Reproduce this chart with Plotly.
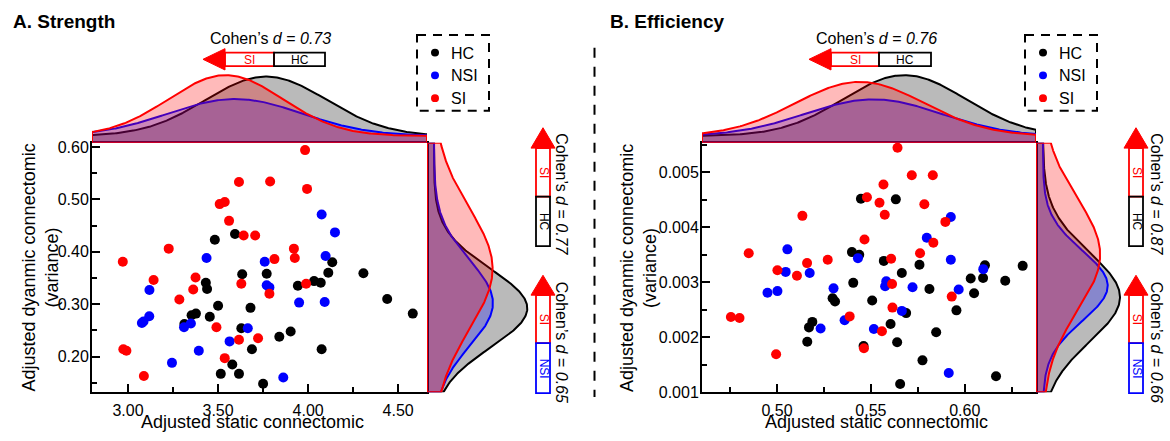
import numpy as np
import plotly.graph_objects as go

W, H = 1170, 441
FONT = "Liberation Sans, Arial, sans-serif"

groups = ["HC", "NSI", "SI"]
colors = {"HC": "#000000", "NSI": "#0000FF", "SI": "#FF0000"}
fills = {"HC": "rgba(0,0,0,0.27)", "NSI": "rgba(0,0,255,0.27)", "SI": "rgba(255,0,0,0.27)"}

# ---------------- Panel A: Strength ----------------
a_hc_x = [3.594, 3.482, 3.634, 3.770, 3.432, 3.439, 3.943, 4.033, 4.070, 4.112, 4.134, 4.307, 4.439, 4.581, 3.500,
          3.680, 3.377, 3.353, 3.454, 3.313, 3.629, 3.903, 3.840, 3.688, 4.075, 3.579, 3.515, 3.616, 3.750]
a_hc_y = [0.434, 0.423, 0.357, 0.358, 0.341, 0.329, 0.335, 0.344, 0.341, 0.360, 0.380, 0.359, 0.310, 0.282, 0.297,
          0.293, 0.282, 0.279, 0.276, 0.262, 0.254, 0.248, 0.238, 0.214, 0.214, 0.185, 0.167, 0.167, 0.148]
a_nsi_x = [4.075, 4.149, 3.436, 3.759, 4.097, 3.770, 3.785, 3.119, 3.950, 4.092, 3.118, 3.077, 3.086, 3.311, 3.349,
           3.665, 3.564, 3.393, 3.244, 3.862]
a_nsi_y = [0.471, 0.437, 0.388, 0.381, 0.392, 0.336, 0.332, 0.327, 0.303, 0.304, 0.277, 0.264, 0.267, 0.256, 0.263,
           0.254, 0.229, 0.211, 0.188, 0.160]
a_si_x = [3.983, 3.616, 3.789, 3.994, 3.509, 3.537, 3.561, 3.642, 3.706, 3.226, 2.971, 3.921, 3.926, 3.813, 3.142,
          3.375, 3.362, 3.629, 3.989, 3.785, 3.285, 3.491, 3.616, 3.722, 2.974, 2.991, 3.537, 3.088]
a_si_y = [0.594, 0.533, 0.534, 0.520, 0.491, 0.495, 0.459, 0.431, 0.431, 0.406, 0.381, 0.406, 0.388, 0.386, 0.346,
          0.351, 0.328, 0.339, 0.339, 0.320, 0.309, 0.256, 0.232, 0.235, 0.214, 0.211, 0.197, 0.163]

# ---------------- Panel B: Efficiency ----------------
b_hc_x = [0.5447, 0.5633, 0.5399, 0.5438, 0.5569, 0.5759, 0.6108, 0.6309, 0.5665, 0.5406, 0.6032, 0.6098, 0.6216,
          0.5812, 0.6050, 0.5296, 0.5309, 0.5507, 0.5956, 0.5688, 0.5188, 0.5170, 0.5605, 0.5848, 0.5161, 0.5640,
          0.5461, 0.5775, 0.6167, 0.5656]
b_hc_y = [0.00452, 0.00451, 0.00355, 0.00350, 0.00339, 0.00332, 0.00331, 0.00330, 0.00317, 0.00299, 0.00307,
          0.00308, 0.00303, 0.00288, 0.00280, 0.00271, 0.00265, 0.00267, 0.00249, 0.00244, 0.00228, 0.00218,
          0.00224, 0.00209, 0.00192, 0.00191, 0.00184, 0.00158, 0.00129, 0.00115]
b_nsi_x = [0.5926, 0.5798, 0.5055, 0.5431, 0.5926, 0.6099, 0.5046, 0.5174, 0.5582, 0.5576, 0.5301, 0.5722, 0.5968,
           0.4949, 0.5002, 0.5665, 0.5360, 0.5232, 0.5516, 0.5915]
b_nsi_y = [0.00419, 0.00381, 0.00360, 0.00344, 0.00341, 0.00324, 0.00319, 0.00317, 0.00302, 0.00293, 0.00289,
           0.00291, 0.00287, 0.00281, 0.00284, 0.00248, 0.00231, 0.00216, 0.00215, 0.00135]
b_si_x = [0.5642, 0.5718, 0.5830, 0.5567, 0.5479, 0.5546, 0.5785, 0.5574, 0.5135, 0.5897, 0.5466, 0.5833, 0.4849,
          0.5762, 0.5160, 0.5270, 0.5608, 0.5002, 0.5106, 0.5613, 0.5931, 0.5615, 0.5387, 0.4754, 0.4800, 0.5559,
          0.5463, 0.4995]
b_si_y = [0.00545, 0.00495, 0.00495, 0.00478, 0.00455, 0.00445, 0.00442, 0.00423, 0.00421, 0.00410, 0.00378,
          0.00372, 0.00353, 0.00353, 0.00335, 0.00341, 0.00343, 0.00322, 0.00312, 0.00297, 0.00274, 0.00254,
          0.00238, 0.00237, 0.00235, 0.00211, 0.00180, 0.00169]

titles = ["A. Strength", "B. Efficiency"]
x_title = "Adjusted static connectomic"
y_title_lines = ["Adjusted dyanmic connectomic", "(variance)"]
d_top = [0.73, 0.76]          # SI vs HC on the static axis
d_right_hc = [0.77, 0.87]     # SI vs HC on the dynamic axis
d_right_nsi = [0.65, 0.66]    # SI vs NSI on the dynamic axis

panels = [
    dict(x={"HC": a_hc_x, "NSI": a_nsi_x, "SI": a_si_x}, y={"HC": a_hc_y, "NSI": a_nsi_y, "SI": a_si_y},
         xr=[2.80, 4.66], yr=[0.132, 0.608], xd=(92, 427), rd=(427, 530), rpeak=100.3,
         xt0=3.0, xdt=0.5, xmin=0.25, yt0=0.2, ydt=0.1, ymin=0.05, xfmt=".2f", yfmt=".2f"),
    dict(x={"HC": b_hc_x, "NSI": b_nsi_x, "SI": b_si_x}, y={"HC": b_hc_y, "NSI": b_nsi_y, "SI": b_si_y},
         xr=[0.460, 0.638], yr=[0.001, 0.00554], xd=(702, 1036), rd=(1036, 1139), rpeak=84.0,
         xt0=0.5, xdt=0.05, xmin=0.025, yt0=0.001, ydt=0.001, ymin=0.0005, xfmt=".2f", yfmt=".3f"),
]

SC_TOP, SC_BOT = 143, 400
TOP_DENS_TOP = 70


def px(x):
    return x / W


def py(y):
    return 1 - y / H


def npdf(grid, vals):
    v = np.asarray(vals, dtype=float)
    m, s = v.mean(), v.std(ddof=1)
    return len(v) * np.exp(-0.5 * ((grid - m) / s) ** 2) / (s * np.sqrt(2 * np.pi))


def dens_range(M, L, peak, off=7.0):
    return [-off / (peak - off) * M, (L - off) / (peak - off) * M]


fig = go.Figure()
layout = dict(width=W, height=H, margin=dict(l=0, r=0, t=0, b=0), paper_bgcolor="white",
              plot_bgcolor="rgba(0,0,0,0)", showlegend=False, font=dict(family=FONT, color="black"))
shapes, annotations = [], []

tickfont = dict(family=FONT, size=16, color="black")

for i, P in enumerate(panels):
    n = 3 * i
    xs, ys = ("x" if n == 0 else f"x{n+1}"), ("y" if n == 0 else f"y{n+1}")
    xt, yt = f"x{n+2}", f"y{n+2}"
    xr_, yr_ = f"x{n+3}", f"y{n+3}"
    kx = lambda k: "xaxis" if k == 1 else f"xaxis{k}"
    ky = lambda k: "yaxis" if k == 1 else f"yaxis{k}"

    # scatter axes
    layout[kx(n + 1)] = dict(domain=[px(P["xd"][0]), px(P["xd"][1])], range=P["xr"], anchor=ys,
                             showline=True, mirror=True, linecolor="black", linewidth=2,
                             ticks="inside", ticklen=8, tickwidth=1.5, tickcolor="black",
                             tick0=P["xt0"], dtick=P["xdt"], tickformat=P["xfmt"], tickfont=tickfont,
                             ticklabelstandoff=3,
                             minor=dict(ticks="inside", ticklen=5, tickwidth=1.5, tickcolor="black",
                                        tick0=P["xt0"], dtick=P["xmin"], showgrid=False),
                             showgrid=False, zeroline=False)
    layout[ky(n + 1)] = dict(domain=[py(SC_BOT), py(SC_TOP)], range=P["yr"], anchor=xs,
                             showline=True, mirror=True, linecolor="black", linewidth=2,
                             ticks="inside", ticklen=8, tickwidth=1.5, tickcolor="black",
                             tick0=P["yt0"], dtick=P["ydt"], tickformat=P["yfmt"], tickfont=tickfont,
                             ticklabelstandoff=-2,
                             minor=dict(ticks="inside", ticklen=5, tickwidth=1.5, tickcolor="black",
                                        tick0=P["yt0"], dtick=P["ymin"], showgrid=False),
                             showgrid=False, zeroline=False)

    # top marginal densities (static measure)
    gx = np.linspace(P["xr"][0], P["xr"][1], 300)
    top_curves = {g: npdf(gx, P["x"][g]) for g in groups}
    Mt = max(c.max() for c in top_curves.values())
    tr = dens_range(Mt, SC_TOP - TOP_DENS_TOP, 69.7)
    layout[kx(n + 2)] = dict(domain=[px(P["xd"][0]), px(P["xd"][1])], range=P["xr"], anchor=yt,
                             visible=False, matches=xs)
    layout[ky(n + 2)] = dict(domain=[py(SC_TOP), py(TOP_DENS_TOP)], range=tr, anchor=xt, visible=False)
    for g in groups:
        c = top_curves[g]
        fig.add_trace(go.Scatter(
            x=np.concatenate([[gx[0]], gx, [gx[-1], gx[0]]]),
            y=np.concatenate([[tr[0]], c, [tr[0], tr[0]]]),
            xaxis=xt, yaxis=yt, mode="lines", fill="toself", fillcolor=fills[g],
            line=dict(color=colors[g], width=2), hoverinfo="skip"))

    # right marginal densities (dynamic measure)
    gy = np.linspace(P["yr"][0], P["yr"][1], 300)
    r_curves = {g: npdf(gy, P["y"][g]) for g in groups}
    Mr = max(c.max() for c in r_curves.values())
    rr = dens_range(Mr, P["rd"][1] - P["rd"][0], P["rpeak"])
    layout[kx(n + 3)] = dict(domain=[px(P["rd"][0]), px(P["rd"][1])], range=rr, anchor=yr_, visible=False)
    layout[ky(n + 3)] = dict(domain=[py(SC_BOT), py(SC_TOP)], range=P["yr"], anchor=xr_,
                             visible=False, matches=ys)
    for g in groups:
        c = r_curves[g]
        fig.add_trace(go.Scatter(
            x=np.concatenate([[rr[0]], c, [rr[0], rr[0]]]),
            y=np.concatenate([[gy[0]], gy, [gy[-1], gy[0]]]),
            xaxis=xr_, yaxis=yr_, mode="lines", fill="toself", fillcolor=fills[g],
            line=dict(color=colors[g], width=2), hoverinfo="skip"))

    # scatter points
    for g in groups:
        fig.add_trace(go.Scatter(x=P["x"][g], y=P["y"][g], xaxis=xs, yaxis=ys, mode="markers", name=g,
                                 marker=dict(color=colors[g], size=10, line=dict(width=0))))


def text(x, y, s, size, color="black", angle=0, xanchor="center", yanchor="middle"):
    annotations.append(dict(x=px(x), y=py(y), xref="paper", yref="paper", text=s, showarrow=False,
                            font=dict(family=FONT, size=size, color=color), textangle=angle,
                            xanchor=xanchor, yanchor=yanchor))


def rect(x0, y0, x1, y1, color, width=1.8, dash=None):
    ln = dict(color=color, width=width)
    if dash:
        ln["dash"] = dash
    shapes.append(dict(type="rect", xref="paper", yref="paper", x0=px(x0), x1=px(x1), y0=py(y0), y1=py(y1),
                       line=ln, fillcolor="rgba(0,0,0,0)"))


def tri(pts, color):
    path = "M " + " L ".join(f"{px(a):.5f},{py(b):.5f}" for a, b in pts) + " Z"
    shapes.append(dict(type="path", xref="paper", yref="paper", path=path, fillcolor=color,
                       line=dict(color=color, width=1)))


def h_arrow(cy, tip, base, mid, end, lab1, c1, lab2, c2):
    tri([(tip, cy), (base, cy - 11), (base, cy + 11)], c1)
    rect(base, cy - 7, mid, cy + 7, c1)
    rect(mid, cy - 7, end, cy + 7, c2)
    text((base + mid) / 2, cy + 0.5, lab1, 12, c1)
    text((mid + end) / 2, cy + 0.5, lab2, 12, c2)


def v_arrow(cx, tip, base, mid, end, lab1, c1, lab2, c2):
    tri([(cx, tip), (cx - 12, base), (cx + 12, base)], c1)
    rect(cx - 7, base, cx + 7, mid, c1)
    rect(cx - 7, mid, cx + 7, end, c2)
    text(cx + 0.5, (base + mid) / 2, lab1, 12, c1, angle=90)
    text(cx + 0.5, (mid + end) / 2, lab2, 12, c2, angle=90)


def cohen(d):
    return f"Cohen’s <i>d</i> = <i>{d:.2f}</i>"


# panel decorations
title_x = [10.5, 607.5]
top_arrow = [(203, 225, 274, 325, 270), (809, 831, 879, 931, 876)]
v_cx = [543, 1136]
v_tx = [561.5, 1156.5]
legend_x = [(417, 489, 435, 448.5), (1025, 1097, 1043, 1057)]
ytitle_x = [(28.5, 51.5), (627, 650)]
xtitle_x = [252, 876]

for i in range(2):
    text(title_x[i], 18, f"<b>{titles[i]}</b>", 19, xanchor="left")
    tip, base, mid, end, tcx = top_arrow[i]
    text(tcx, 36, cohen(d_top[i]), 16)
    h_arrow(57, tip, base, mid, end, "SI", colors["SI"], "HC", colors["HC"])
    v_arrow(v_cx[i], 127.5, 148.5, 198.5, 249.5, "SI", colors["SI"], "HC", colors["HC"])
    v_arrow(v_cx[i], 279.5, 300, 349.5, 401, "SI", colors["SI"], "NSI", colors["NSI"])
    text(v_tx[i], 195.5, cohen(d_right_hc[i]), 16, angle=90)
    text(v_tx[i], 348.5, cohen(d_right_nsi[i]), 16, angle=90)
    # legend
    lx0, lx1, mx, tx = legend_x[i]
    rect(lx0, 32, lx1, 110, "black", width=2, dash="9px,7px")
    for j, g in enumerate(groups):
        yy = [50, 73.5, 97][j]
        shapes.append(dict(type="circle", xref="paper", yref="paper", x0=px(mx - 4), x1=px(mx + 4),
                           y0=py(yy + 4), y1=py(yy - 4), fillcolor=colors[g], line=dict(width=0)))
        text(tx, yy + 0.5, g, 16, xanchor="left")
    # axis titles
    text(xtitle_x[i], 431, x_title, 18)
    for k, line in enumerate(y_title_lines):
        text(ytitle_x[i][k], 272, line, 18, angle=-90)

# dashed separator
shapes.append(dict(type="line", xref="paper", yref="paper", x0=px(594.5), x1=px(594.5), y0=py(45), y1=py(405),
                   line=dict(color="black", width=2, dash="10px,9px")))

layout["shapes"] = shapes
layout["annotations"] = annotations
fig.update_layout(**layout)
fig.write_html("out.html", config={"displayModeBar": False},
               post_script="document.body.style.margin='0';document.body.style.padding='0';")
